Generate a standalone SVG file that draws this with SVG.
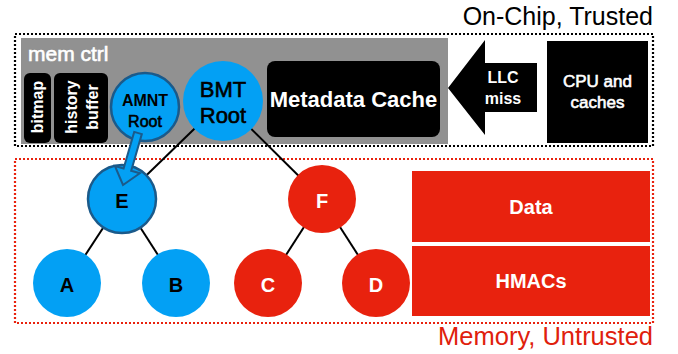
<svg xmlns="http://www.w3.org/2000/svg" width="678" height="354" viewBox="0 0 678 354">
<style>
text{font-family:"Liberation Sans",Arial,sans-serif;}
.b{font-weight:bold;}
.m{stroke-width:0.6;paint-order:fill;}
.w{fill:#fff;}
.k{fill:#000;}
.mw{stroke:#fff;}
.mk{stroke:#000;}
.blue{fill:#03a0f4;}
.red{fill:#e8220e;}
.bs{stroke:#1b5a8a;stroke-width:2.5;}
.edge{stroke:#000;stroke-width:2;fill:none;}
</style>
<rect width="678" height="354" fill="#fff"/>
<g id="onchip">
<rect x="15" y="34" width="638" height="112" fill="none" stroke="#000" stroke-width="2.2" stroke-dasharray="2,2"/>
<text x="653" y="25" font-size="25" text-anchor="end" class="k">On-Chip, Trusted</text>
</g>
<g id="memory">
<rect x="15" y="159" width="638" height="164" fill="none" stroke="#e8220e" stroke-width="2.2" stroke-dasharray="2,2"/>
<text x="653" y="345" font-size="25.5" text-anchor="end" fill="#e0200c">Memory, Untrusted</text>
</g>
<g id="memctrl">
<rect x="21" y="38" width="427" height="106" fill="#919191"/>
<text x="28" y="61" font-size="21" class="w m mw">mem ctrl</text>
</g>
<g id="bitmap">
<rect x="24" y="73" width="27" height="70" rx="6" fill="#000"/>
<text transform="translate(43,107) rotate(-90)" font-size="16" text-anchor="middle" class="b w">bitmap</text>
</g>
<g id="history">
<rect x="54" y="73" width="54" height="70" rx="6" fill="#000"/>
<text transform="translate(77,107) rotate(-90)" font-size="16" text-anchor="middle" class="b w">history</text>
<text transform="translate(98,107) rotate(-90)" font-size="16" text-anchor="middle" class="b w">buffer</text>
</g>
<g id="metadata">
<rect x="267" y="61" width="173" height="76" rx="8" fill="#000"/>
<text x="353.5" y="107" font-size="22" text-anchor="middle" class="b w">Metadata Cache</text>
</g>
<g id="llcmiss">
<polygon points="448,88 485,40 485,63 537,63 537,112 485,112 485,135" fill="#000"/>
<text x="503" y="83" font-size="16" text-anchor="middle" class="b w">LLC</text>
<text x="503" y="104" font-size="16" text-anchor="middle" class="b w">miss</text>
</g>
<g id="cpu">
<rect x="547" y="41" width="101" height="102" fill="#000"/>
<text x="597.5" y="87" font-size="17" text-anchor="middle" class="w m mw">CPU and</text>
<text x="597.5" y="108" font-size="17" text-anchor="middle" class="w m mw">caches</text>
</g>
<g id="connectors">
<line class="edge" x1="223" y1="101" x2="122" y2="199"/>
<line class="edge" x1="223" y1="101" x2="322" y2="199"/>
<line class="edge" x1="122" y1="199" x2="67" y2="283"/>
<line class="edge" x1="122" y1="199" x2="176" y2="283"/>
<line class="edge" x1="322" y1="199" x2="268" y2="283"/>
<line class="edge" x1="322" y1="199" x2="376" y2="283"/>
</g>
<g id="bmtroot">
<circle cx="223" cy="101" r="40" class="blue"/>
<text x="223" y="97" font-size="22" text-anchor="middle" class="k m mk">BMT</text>
<text x="223" y="123" font-size="22" text-anchor="middle" class="k m mk">Root</text>
</g>
<g id="amntroot">
<circle cx="145" cy="107" r="34" class="blue bs"/>
<text x="145" y="106" font-size="16" text-anchor="middle" class="b k">AMNT</text>
<text x="145" y="127" font-size="16" text-anchor="middle" class="k m mk">Root</text>
</g>
<g id="E">
<circle cx="122" cy="199" r="34" class="blue bs"/>
<text x="122" y="208" font-size="20" text-anchor="middle" class="b k">E</text>
</g>
<g id="amntarrow">
<polygon points="134.2,131.9 141.8,134.1 131.2,170.7 139.9,173.2 123,185 114.9,166 123.6,168.5" class="blue" stroke="#1b5a8a" stroke-width="2" stroke-linejoin="miter"/>
</g>
<g id="A">
<circle cx="67" cy="283" r="34" class="blue"/>
<text x="67" y="292" font-size="20" text-anchor="middle" class="b k">A</text>
</g>
<g id="B">
<circle cx="176" cy="283" r="34" class="blue"/>
<text x="176" y="292" font-size="20" text-anchor="middle" class="b k">B</text>
</g>
<g id="F">
<circle cx="322" cy="199" r="34" class="red"/>
<text x="322" y="208" font-size="20" text-anchor="middle" class="b w">F</text>
</g>
<g id="C">
<circle cx="268" cy="283" r="34" class="red"/>
<text x="268" y="292" font-size="20" text-anchor="middle" class="b w">C</text>
</g>
<g id="D">
<circle cx="376" cy="283" r="34" class="red"/>
<text x="376" y="292" font-size="20" text-anchor="middle" class="b w">D</text>
</g>
<g id="data">
<rect x="412" y="171" width="238" height="71" class="red"/>
<text x="531" y="214" font-size="20" text-anchor="middle" class="b w">Data</text>
</g>
<g id="hmacs">
<rect x="412" y="246" width="238" height="70" class="red"/>
<text x="531" y="288" font-size="20" text-anchor="middle" class="b w">HMACs</text>
</g>
</svg>
